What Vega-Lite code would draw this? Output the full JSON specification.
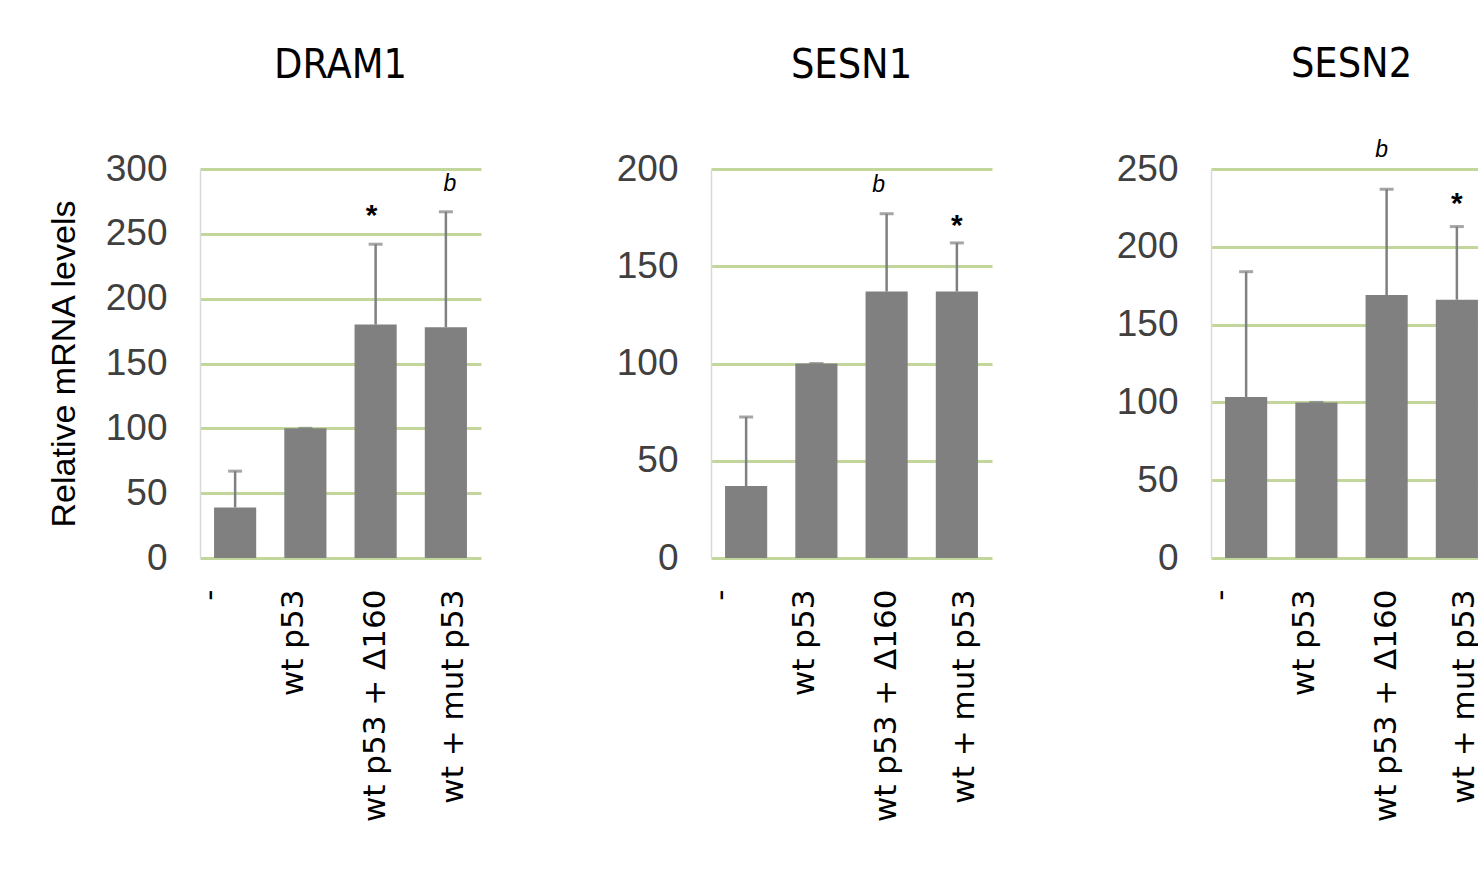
{
  "$schema": "https://vega.github.io/schema/vega-lite/v6.json",
  "padding": {"left": 47, "top": 43, "right": 0, "bottom": 0},
  "background": "white",
  "spacing": 230,
  "bounds": "flush",
  "config": {
    "view": {"stroke": null},
    "title": {"font": "DejaVu Sans Condensed, DejaVu Sans", "fontSize": 41, "fontWeight": "normal", "color": "#000000", "offset": 63},
    "axisY": {
      "labelFont": "Liberation Sans", "labelFontSize": 37, "labelColor": "#404040", "labelPadding": 33,
      "ticks": false, "domainColor": "#d9d9d9", "domainWidth": 1.5,
      "gridColor": "#c3d69b", "gridWidth": 3,
      "titleFont": "Liberation Sans", "titleFontSize": 34, "titleFontWeight": "normal", "titleColor": "#000000", "titlePadding": 24
    },
    "axisX": {
      "labelFont": "DejaVu Sans", "labelFontSize": 31, "labelColor": "#000000", "labelAngle": -90, "labelPadding": 31,
      "labelLimit": 500, "ticks": false, "domain": false, "grid": false,
      "labelOffset": {"condition": [{"test": "datum.value === '-'", "value": -25}, {"test": "datum.value === 'wt p53'", "value": -11}, {"test": "datum.value === 'wt + mut p53'", "value": 8}], "value": 0}
    }
  },
  "datasets": {
    "expr": [
      {"gene": "DRAM1", "group": "-", "mean": 39, "upper": 67, "note": null, "noteY": null},
      {"gene": "DRAM1", "group": "wt p53", "mean": 100, "upper": 100, "note": null, "noteY": null},
      {"gene": "DRAM1", "group": "wt p53 + Δ160", "mean": 180, "upper": 242, "note": "*", "noteY": 257},
      {"gene": "DRAM1", "group": "wt + mut p53", "mean": 178, "upper": 267, "note": "b", "noteY": 283},
      {"gene": "SESN1", "group": "-", "mean": 37, "upper": 72.5, "note": null, "noteY": null},
      {"gene": "SESN1", "group": "wt p53", "mean": 100, "upper": 100, "note": null, "noteY": null},
      {"gene": "SESN1", "group": "wt p53 + Δ160", "mean": 137, "upper": 177, "note": "b", "noteY": 188},
      {"gene": "SESN1", "group": "wt + mut p53", "mean": 137, "upper": 162, "note": "*", "noteY": 166},
      {"gene": "SESN2", "group": "-", "mean": 103.5, "upper": 184, "note": null, "noteY": null},
      {"gene": "SESN2", "group": "wt p53", "mean": 100, "upper": 100, "note": null, "noteY": null},
      {"gene": "SESN2", "group": "wt p53 + Δ160", "mean": 169, "upper": 237, "note": "b", "noteY": 258},
      {"gene": "SESN2", "group": "wt + mut p53", "mean": 166, "upper": 213, "note": "*", "noteY": 222}
    ]
  },
  "hconcat": [
    {
      "title": "DRAM1",
      "width": 281, "height": 389,
      "data": {"name": "expr"},
      "transform": [{"filter": "datum.gene === 'DRAM1'"}],
      "encoding": {"x": {"field": "group", "type": "nominal", "sort": null, "title": null, "scale": {"paddingInner": 0.4, "paddingOuter": 0.2}}},
      "layer": [
        {"mark": {"type": "bar", "color": "#808080"},
         "encoding": {"y": {"field": "mean", "type": "quantitative", "scale": {"domain": [0, 300], "nice": false}, "axis": {"values": [0, 50, 100, 150, 200, 250, 300], "title": "Relative mRNA levels"}}}},
        {"mark": {"type": "rule", "color": "#808080", "strokeWidth": 2.5},
         "encoding": {"y": {"field": "mean", "type": "quantitative", "scale": {"domain": [0, 300], "nice": false}}, "y2": {"field": "upper"}}},
        {"mark": {"type": "tick", "color": "#808080", "thickness": 3, "size": 14},
         "encoding": {"y": {"field": "upper", "type": "quantitative", "scale": {"domain": [0, 300], "nice": false}}}},
        {"transform": [{"filter": "datum.note === '*'"}],
         "mark": {"type": "text", "font": "Liberation Sans", "fontSize": 30, "fontWeight": "bold", "color": "#000000", "baseline": "alphabetic", "dx": -4},
         "encoding": {"y": {"field": "noteY", "type": "quantitative", "scale": {"domain": [0, 300], "nice": false}}, "text": {"field": "note"}}},
        {"transform": [{"filter": "datum.note === 'b'"}],
         "mark": {"type": "text", "font": "Liberation Sans", "fontSize": 23, "fontStyle": "italic", "color": "#000000", "baseline": "alphabetic", "dx": 4},
         "encoding": {"y": {"field": "noteY", "type": "quantitative", "scale": {"domain": [0, 300], "nice": false}}, "text": {"field": "note"}}}
      ]
    },
    {
      "spacing": 219,
      "bounds": "flush",
      "hconcat": [
        {
          "title": "SESN1",
          "width": 281, "height": 389,
          "data": {"name": "expr"},
          "transform": [{"filter": "datum.gene === 'SESN1'"}],
          "encoding": {"x": {"field": "group", "type": "nominal", "sort": null, "title": null, "scale": {"paddingInner": 0.4, "paddingOuter": 0.2}}},
          "layer": [
            {"mark": {"type": "bar", "color": "#808080"},
             "encoding": {"y": {"field": "mean", "type": "quantitative", "scale": {"domain": [0, 200], "nice": false}, "axis": {"values": [0, 50, 100, 150, 200], "title": null}}}},
            {"mark": {"type": "rule", "color": "#808080", "strokeWidth": 2.5},
             "encoding": {"y": {"field": "mean", "type": "quantitative", "scale": {"domain": [0, 200], "nice": false}}, "y2": {"field": "upper"}}},
            {"mark": {"type": "tick", "color": "#808080", "thickness": 3, "size": 14},
             "encoding": {"y": {"field": "upper", "type": "quantitative", "scale": {"domain": [0, 200], "nice": false}}}},
            {"transform": [{"filter": "datum.note === '*'"}],
             "mark": {"type": "text", "font": "Liberation Sans", "fontSize": 30, "fontWeight": "bold", "color": "#000000", "baseline": "alphabetic"},
             "encoding": {"y": {"field": "noteY", "type": "quantitative", "scale": {"domain": [0, 200], "nice": false}}, "text": {"field": "note"}}},
            {"transform": [{"filter": "datum.note === 'b'"}],
             "mark": {"type": "text", "font": "Liberation Sans", "fontSize": 23, "fontStyle": "italic", "color": "#000000", "baseline": "alphabetic", "dx": -8},
             "encoding": {"y": {"field": "noteY", "type": "quantitative", "scale": {"domain": [0, 200], "nice": false}}, "text": {"field": "note"}}}
          ]
        },
        {
          "title": {"text": "SESN2", "offset": 53},
          "width": 281, "height": 389,
          "data": {"name": "expr"},
          "transform": [{"filter": "datum.gene === 'SESN2'"}],
          "encoding": {"x": {"field": "group", "type": "nominal", "sort": null, "title": null, "scale": {"paddingInner": 0.4, "paddingOuter": 0.2}}},
          "layer": [
            {"mark": {"type": "bar", "color": "#808080"},
             "encoding": {"y": {"field": "mean", "type": "quantitative", "scale": {"domain": [0, 250], "nice": false}, "axis": {"values": [0, 50, 100, 150, 200, 250], "title": null}}}},
            {"mark": {"type": "rule", "color": "#808080", "strokeWidth": 2.5},
             "encoding": {"y": {"field": "mean", "type": "quantitative", "scale": {"domain": [0, 250], "nice": false}}, "y2": {"field": "upper"}}},
            {"mark": {"type": "tick", "color": "#808080", "thickness": 3, "size": 14},
             "encoding": {"y": {"field": "upper", "type": "quantitative", "scale": {"domain": [0, 250], "nice": false}}}},
            {"transform": [{"filter": "datum.note === '*'"}],
             "mark": {"type": "text", "font": "Liberation Sans", "fontSize": 30, "fontWeight": "bold", "color": "#000000", "baseline": "alphabetic"},
             "encoding": {"y": {"field": "noteY", "type": "quantitative", "scale": {"domain": [0, 250], "nice": false}}, "text": {"field": "note"}}},
            {"transform": [{"filter": "datum.note === 'b'"}],
             "mark": {"type": "text", "font": "Liberation Sans", "fontSize": 23, "fontStyle": "italic", "color": "#000000", "baseline": "alphabetic", "dx": -5},
             "encoding": {"y": {"field": "noteY", "type": "quantitative", "scale": {"domain": [0, 250], "nice": false}}, "text": {"field": "note"}}}
          ]
        }
      ]
    }
  ]
}
